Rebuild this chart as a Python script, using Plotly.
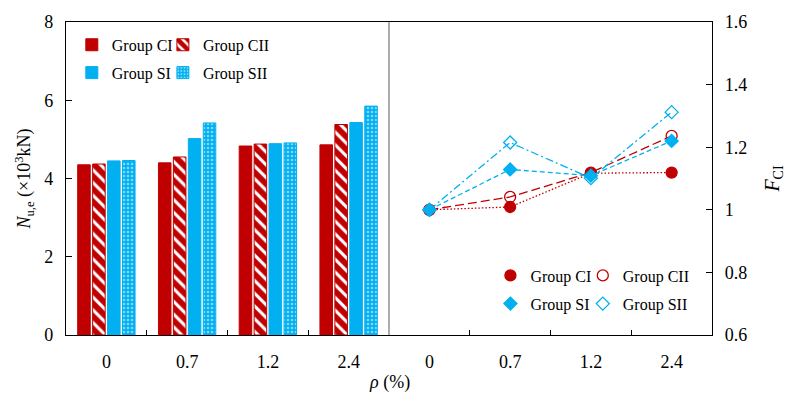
import plotly.graph_objects as go

# Reinforcement ratio categories
rho_labels = ["0", "0.7", "1.2", "2.4"]

# Ultimate load N_u,e (x10^3 kN)
n_ci = [4.35, 4.40, 4.83, 4.86]
n_cii = [4.37, 4.55, 4.88, 5.38]
n_si = [4.45, 5.02, 4.89, 5.43]
n_sii = [4.46, 5.42, 4.91, 5.85]

# Strength ratio F_CI relative to rho = 0
f_ci = [1.0, 1.009, 1.117, 1.119]
f_cii = [1.0, 1.041, 1.119, 1.236]
f_si = [1.0, 1.129, 1.109, 1.220]
f_sii = [1.0, 1.215, 1.101, 1.312]

RED = "#C00000"
CYAN = "#00B0F0"
FONT = "Liberation Serif"

fig = go.Figure()

# ---- bars (left panel) ----
fig.add_trace(go.Bar(
    x=rho_labels, y=n_ci, name="Group CI", legend="legend",
    marker=dict(color=RED, line=dict(color=RED, width=1)),
    xaxis="x", yaxis="y"))
fig.add_trace(go.Bar(
    x=rho_labels, y=n_cii, name="Group CII", legend="legend2",
    marker=dict(color="white", line=dict(color=RED, width=1),
                pattern=dict(shape="\\", fgcolor=RED, bgcolor="white",
                             fgopacity=1, size=9, solidity=0.65)),
    xaxis="x", yaxis="y"))
fig.add_trace(go.Bar(
    x=rho_labels, y=n_si, name="Group SI", legend="legend3",
    marker=dict(color=CYAN, line=dict(color=CYAN, width=1)),
    xaxis="x", yaxis="y"))
fig.add_trace(go.Bar(
    x=rho_labels, y=n_sii, name="Group SII", legend="legend4",
    marker=dict(color=CYAN, line=dict(color=CYAN, width=1),
                pattern=dict(shape=".", fgcolor="white", bgcolor=CYAN,
                             size=4, solidity=0.35)),
    xaxis="x", yaxis="y"))

# ---- ratio lines (right panel) ----
line_specs = [
    ("Group CI", f_ci, RED, "1.5px,2px", "circle", "legend5"),
    ("Group CII", f_cii, RED, "9px,4px", "circle-open", "legend6"),
    ("Group SI", f_si, CYAN, "5px,3px", "diamond", "legend7"),
    ("Group SII", f_sii, CYAN, "8px,3px,2px,3px", "diamond-open", "legend8"),
]
for name, vals, col, dash, sym, leg_id in line_specs:
    mk = dict(symbol=sym, size=11 if "circle" in sym else 10,
              color=col, line=dict(color=col, width=1.3))
    fig.add_trace(go.Scatter(
        x=rho_labels, y=vals, mode="lines+markers", name=name,
        line=dict(color=col, width=1.3, dash=dash), marker=mk,
        showlegend=False, xaxis="x2", yaxis="y2"))
    # marker-only legend entry
    fig.add_trace(go.Scatter(
        x=[None], y=[None], mode="markers", name=name, legend=leg_id,
        marker=mk, xaxis="x2", yaxis="y2"))

tick_font = dict(family=FONT, size=18, color="black")
leg_font = dict(family=FONT, size=16, color="black")

xcommon = dict(type="category", range=[-0.5, 3.5], showline=True,
               linecolor="black", linewidth=1.3, mirror=True,
               ticks="inside", ticklen=5, tickcolor="black",
               tickson="boundaries", tickfont=tick_font, showgrid=False,
               zeroline=False, ticklabelstandoff=10)

def leg(x, y):
    return dict(x=x, y=y, xanchor="left", yanchor="middle", orientation="h",
                font=leg_font, bgcolor="rgba(0,0,0,0)",
                itemwidth=30, itemclick=False)

# legend columns / rows (paper fractions)
col_l1, col_l2, col_r1, col_r2 = 0.009, 0.150, 0.657, 0.800
row_l1, row_l2, row_r1, row_r2 = 0.927, 0.838, 0.19, 0.10

fig.update_layout(
    width=791, height=401,
    margin=dict(l=66, r=74, t=19, b=66),
    paper_bgcolor="white", plot_bgcolor="white",
    font=dict(family=FONT, color="black"),
    barmode="group", bargap=0.26, bargroupgap=0.16,
    xaxis=dict(domain=[0, 0.5], anchor="y", **xcommon),
    xaxis2=dict(domain=[0.5, 1], anchor="y2", **xcommon),
    yaxis=dict(range=[0, 8], dtick=2, anchor="x", showline=True,
               linecolor="black", linewidth=1.3, ticks="inside", ticklen=6,
               tickcolor="black", tickfont=tick_font, showgrid=False,
               zeroline=False, ticklabelstandoff=8,
               title=dict(text="<i>N</i><sub>u,e</sub> (×10<sup>3</sup>kN)",
                          font=dict(family=FONT, size=18), standoff=8)),
    yaxis2=dict(range=[0.6, 1.6], dtick=0.2, anchor="x2", side="right",
                showline=True, linecolor="black", linewidth=1.3,
                ticks="inside", ticklen=6, tickcolor="black",
                tickfont=tick_font, showgrid=False, zeroline=False,
                ticklabelstandoff=8, tickformat="~g",
                title=dict(text="<i>F</i><sub>CI</sub>",
                           font=dict(family=FONT, size=20), standoff=18)),
    legend=leg(col_l1, row_l1),
    legend2=leg(col_l2, row_l1),
    legend3=leg(col_l1, row_l2),
    legend4=leg(col_l2, row_l2),
    legend5=leg(col_r1, row_r1),
    legend6=leg(col_r2, row_r1),
    legend7=leg(col_r1, row_r2),
    legend8=leg(col_r2, row_r2),
    shapes=[dict(type="line", xref="paper", yref="paper", x0=0.5, x1=0.5,
                 y0=0, y1=1, line=dict(color="#808080", width=1.3))],
    annotations=[dict(text="<i>ρ</i> (%)", xref="paper", yref="paper",
                      x=0.5, y=-0.152, yanchor="middle", showarrow=False,
                      font=dict(family=FONT, size=18))],
)

fig.write_html("out.html")
